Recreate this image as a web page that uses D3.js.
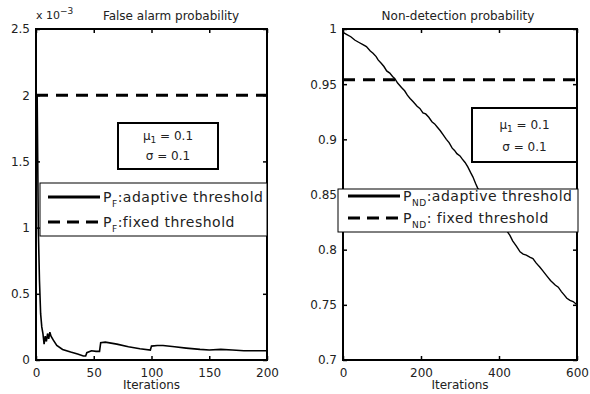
<!DOCTYPE html>
<html><head><meta charset="utf-8">
<script src="https://cdn.jsdelivr.net/npm/d3@7"></script>
<style>body{margin:0;background:#fff;} text{font-family:"DejaVu Sans","Liberation Sans",Arial,sans-serif;fill:#222;}</style>
</head><body><svg id="c" width="590" height="394"></svg>
<script>
// ---- data ----
const faIter = [0,1,2,3,4,5,6,7,8,9,10,11,12,13,15,18,23,30,36,41,43,44,48,52,55,56,60,70,80,90,99,100,105,110,120,130,142,150,160,170,180,190,200];
const faAdaptive = [2.0,2.0,1.0,0.6,0.35,0.25,0.2,0.12,0.18,0.14,0.2,0.16,0.21,0.18,0.15,0.11,0.08,0.06,0.045,0.03,0.03,0.055,0.07,0.065,0.065,0.13,0.135,0.12,0.1,0.085,0.075,0.105,0.11,0.11,0.1,0.09,0.08,0.075,0.08,0.075,0.07,0.07,0.07];
const faFixed = 2.0;
const faXTicks = [0,50,100,150,200];
const faYTicks = [0,0.5,1,1.5,2,2.5];

const ndIter = [0,10,20,30,40,50,60,70,77,85,90,98,105,112,120,127,133,140,150,158,165,172,180,190,197,205,212,220,228,235,242,249,257,265,272,280,286,292,300,306,313,320,327,333,340,345,360,380,400,420,428,435,445,454,462,470,480,487,495,505,512,523,532,544,552,560,567,574,582,590,600];
const ndAdaptive = [0.997,0.995,0.993,0.990,0.988,0.986,0.984,0.980,0.978,0.975,0.972,0.969,0.966,0.962,0.960,0.957,0.955,0.951,0.947,0.944,0.940,0.937,0.934,0.930,0.928,0.924,0.923,0.920,0.916,0.914,0.911,0.908,0.904,0.900,0.897,0.892,0.890,0.887,0.885,0.882,0.879,0.875,0.870,0.866,0.860,0.856,0.847,0.836,0.826,0.817,0.813,0.808,0.803,0.798,0.796,0.795,0.793,0.792,0.788,0.784,0.781,0.776,0.772,0.768,0.766,0.762,0.759,0.756,0.754,0.753,0.750];
const ndFixed = 0.954;
const ndXTicks = [0,200,400,600];
const ndYTicks = [0.7,0.75,0.8,0.85,0.9,0.95,1];

const svg = d3.select("#c");

function panel(o){
  const g = svg.append("g");
  const x = d3.scaleLinear().domain(o.xd).range([o.x0,o.x1]);
  const y = d3.scaleLinear().domain(o.yd).range([o.y1,o.y0]);
  const ax = (a)=>a.tickSizeInner(-4).tickSizeOuter(0);
  const bottom = g.append("g").attr("transform",`translate(0,${o.y1})`).call(ax(d3.axisBottom(x).tickValues(o.xt).tickFormat(d3.format("d"))).tickPadding(8));
  const top = g.append("g").attr("transform",`translate(0,${o.y0})`).call(ax(d3.axisTop(x).tickValues(o.xt).tickFormat("")));
  const left = g.append("g").attr("transform",`translate(${o.x0},0)`).call(ax(d3.axisLeft(y).tickValues(o.yt).tickFormat(o.yf)).tickPadding(6));
  const right = g.append("g").attr("transform",`translate(${o.x1},0)`).call(ax(d3.axisRight(y).tickValues(o.yt).tickFormat("")));
  [bottom,top,left,right].forEach(a=>{
    a.select(".domain").remove();
    a.selectAll("line").attr("stroke","#000").attr("stroke-width",1.5);
    a.selectAll("text").style("font-size","12px").attr("fill","#333");
  });
  g.append("rect").attr("x",o.x0).attr("y",o.y0).attr("width",o.x1-o.x0).attr("height",o.y1-o.y0)
    .attr("fill","none").attr("stroke","#000").attr("stroke-width",2);
  g.append("line").attr("x1",x(o.xd[0])).attr("x2",x(o.xd[1])).attr("y1",y(o.fixed)).attr("y2",y(o.fixed))
    .attr("stroke","#000").attr("stroke-width",3).attr("stroke-dasharray","12,8");
  const line = d3.line().x((d,i)=>x(o.xs[i])).y(d=>y(d));
  g.append("path").datum(o.ys).attr("d",line).attr("fill","none").attr("stroke","#000").attr("stroke-width",o.lw).attr("stroke-linejoin","miter");
  g.append("text").attr("x",o.tx).attr("y",20).attr("text-anchor","middle").style("font-size","12px").attr("fill","#333").text(o.title);
  g.append("text").attr("x",(o.x0+o.x1)/2).attr("y",389).attr("text-anchor","middle").style("font-size","12px").attr("fill","#333").text("Iterations");
  const tb=o.tb;
  g.append("rect").attr("x",tb[0]).attr("y",tb[1]).attr("width",tb[2]-tb[0]).attr("height",tb[3]-tb[1]).attr("fill","#fff").attr("stroke","#000").attr("stroke-width",2);
  const cx=(tb[0]+tb[2])/2, h=tb[3]-tb[1];
  const t1=g.append("text").attr("x",cx).attr("y",tb[1]+h*0.38).attr("text-anchor","middle").style("font-size","12px");
  t1.append("tspan").text("\u03bc");
  t1.append("tspan").attr("dy",3).style("font-size","9px").text("1");
  t1.append("tspan").attr("dy",-3).text(" = 0.1");
  g.append("text").attr("x",cx).attr("y",tb[1]+h*0.8).attr("text-anchor","middle").style("font-size","12px").text("\u03c3 = 0.1");
  const lg=o.lg;
  g.append("rect").attr("x",lg[0]).attr("y",lg[1]).attr("width",lg[2]-lg[0]).attr("height",lg[3]-lg[1]).attr("fill","#fff").attr("stroke","#000").attr("stroke-width",1);
  const rows=[{dash:null,txt:o.leg[0],yy:o.ly[0]},{dash:"12,7",txt:o.leg[1],yy:o.ly[1]}];
  rows.forEach(r=>{
    g.append("line").attr("x1",o.lx[0]).attr("x2",o.lx[1]).attr("y1",r.yy).attr("y2",r.yy).attr("stroke","#000").attr("stroke-width",3).attr("stroke-dasharray",r.dash);
    const t=g.append("text").attr("x",o.lx[1]+3).attr("y",r.yy+5).style("font-size","14px").style("letter-spacing","0.5px");
    t.append("tspan").text("P");
    t.append("tspan").attr("dy",5).style("font-size","9px").text(o.sub);
    t.append("tspan").attr("dy",-5).text(r.txt);
  });
  return {x,y,g};
}

const p1 = panel({xd:[0,200],yd:[0,2.5],x0:36,x1:267,y0:29,y1:360,xt:faXTicks,yt:faYTicks,yf:d3.format("~g"),
  xs:faIter,ys:faAdaptive,fixed:faFixed,lw:1.6,title:"False alarm probability",tx:171,
  tb:[118,123,218,169],lg:[40,183,267,236],lx:[48,100],ly:[197,222],sub:"F",leg:[":adaptive threshold",":fixed threshold"]});
p1.g.append("text").attr("x",36).attr("y",19).style("font-size","11px").attr("fill","#333")
  .call(t=>{t.append("tspan").text("x 10");t.append("tspan").attr("dy",-5).style("font-size","9px").text("\u22123");});

const p2 = panel({xd:[0,600],yd:[0.7,1],x0:343,x1:577,y0:29,y1:360,xt:ndXTicks,yt:ndYTicks,yf:d3.format("~g"),
  xs:ndIter,ys:ndAdaptive,fixed:ndFixed,lw:1.4,title:"Non-detection probability",tx:458,
  tb:[472,108,577,162],lg:[338,189,578,232],lx:[348,400],ly:[196,218],sub:"ND",leg:[":adaptive threshold",": fixed threshold"]});
</script></body></html>
